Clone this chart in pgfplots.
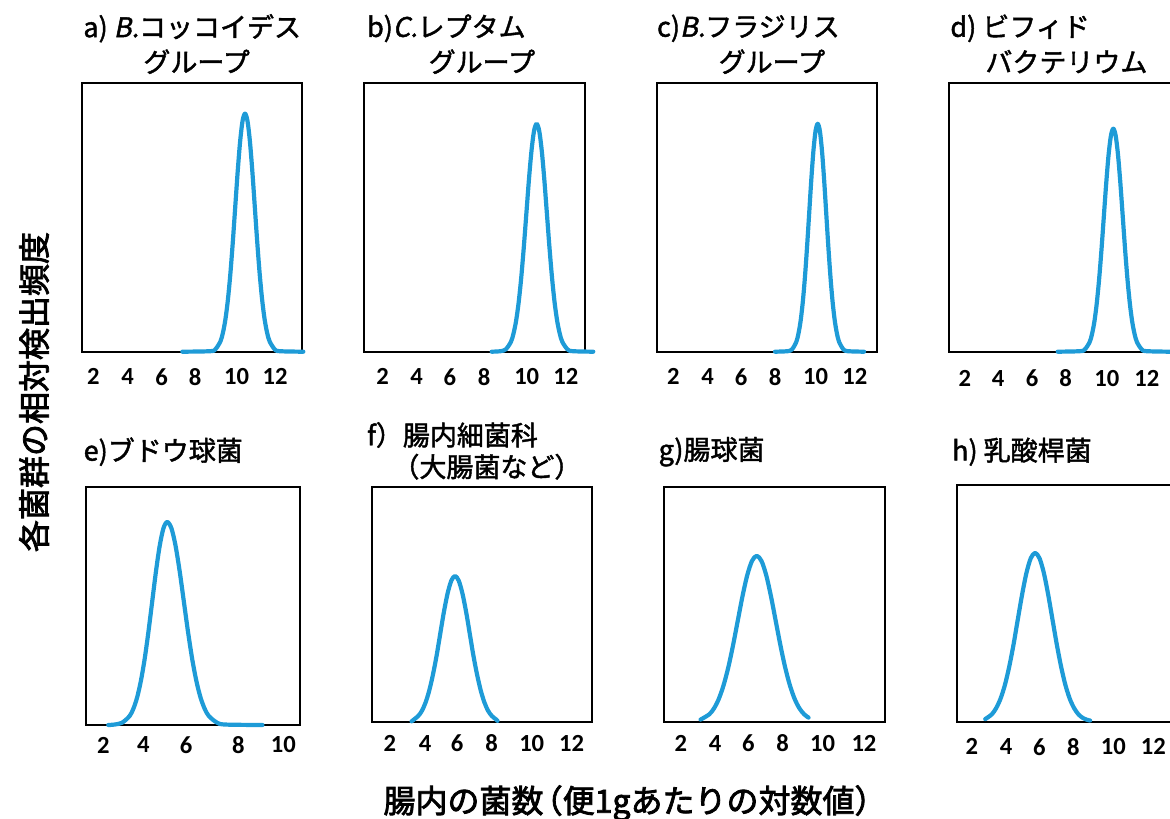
\documentclass[border=0pt]{standalone}
\usepackage{fontspec}
\setmainfont{Noto Sans CJK JP}[FakeBold=1.6]
\newfontfamily\itfont{Noto Sans CJK JP}[FakeSlant=0.2, FakeBold=1.6]
\newfontfamily\lblfont{Noto Sans CJK JP}[FakeBold=2.4]
\newfontfamily\tickfont{Carlito}
\usepackage{pgfplots}
\pgfplotsset{compat=1.18}
\definecolor{curve}{RGB}{30,155,215}
\pgfplotsset{
  panel/.style={scale only axis, ymin=0, ymax=1, ytick=\empty,
    major tick length=0pt, axis line style={line width=1pt}, clip=false,
    xticklabels={2,4,6,8,10,12},
    xticklabel style={font=\tickfont\bfseries\fontsize{12.3}{12}\selectfont, anchor=center, inner sep=0pt},
    anchor=south west},
  curv/.style={color=curve, line width=2.1pt, line cap=round, line join=round, smooth, tension=0.5, mark=none}
}
\tikzset{ttl/.style={anchor=west, inner sep=0pt, font=\fontsize{13.5}{16}\selectfont}}
\begin{document}
\begin{tikzpicture}[x=0.5pt,y=-0.5pt]
\useasboundingbox (0,0) rectangle (1170,818);
% ---------- a
\begin{axis}[panel, at={(40.85pt,-175.85pt)}, width=110pt, height=134.2pt,
  xmin=1.36, xmax=13.47, xtick={2,3.89,5.76,7.6,9.89,12}, xticklabel style={yshift=-12.5pt}]
\addplot[curv] coordinates {(6.90,0) (8.46,0.002) (8.73,0.010) (9.00,0.039) (9.135,0.071) (9.27,0.120) (9.405,0.192) (9.54,0.288) (9.675,0.406) (9.81,0.538) (9.945,0.670) (10.08,0.783) (10.215,0.860) (10.35,0.887) (10.485,0.860) (10.62,0.783) (10.755,0.670) (10.89,0.538) (11.025,0.406) (11.16,0.288) (11.295,0.192) (11.43,0.120) (11.565,0.071) (11.70,0.039) (11.97,0.010) (12.24,0.002) (13.56,0)};
\end{axis}
% ---------- b
\begin{axis}[panel, at={(182pt,-175.85pt)}, width=110.5pt, height=134.2pt,
  xmin=0.98, xmax=13.04, xtick={2,3.85,5.67,7.53,9.86,12}, xticklabel style={yshift=-12.5pt}]
\addplot[curv] coordinates {(7.95,0) (8.44,0.002) (8.72,0.009) (9.00,0.037) (9.14,0.068) (9.28,0.115) (9.42,0.184) (9.56,0.276) (9.70,0.389) (9.84,0.515) (9.98,0.641) (10.12,0.749) (10.26,0.823) (10.40,0.849) (10.54,0.823) (10.68,0.749) (10.82,0.641) (10.96,0.515) (11.10,0.389) (11.24,0.276) (11.38,0.184) (11.52,0.115) (11.66,0.068) (11.80,0.037) (12.08,0.009) (12.36,0.002) (13.49,0)};
\end{axis}
% ---------- c
\begin{axis}[panel, at={(328.35pt,-175.85pt)}, width=110.3pt, height=134.2pt,
  xmin=1.09, xmax=13.23, xtick={2,3.89,5.73,7.60,9.84,12}, xticklabel style={yshift=-12.5pt}]
\addplot[curv] coordinates {(7.60,0) (8.305,0.002) (8.54,0.009) (8.775,0.037) (8.8925,0.068) (9.01,0.115) (9.1275,0.184) (9.245,0.276) (9.3625,0.389) (9.48,0.515) (9.5975,0.641) (9.715,0.749) (9.8325,0.823) (9.95,0.849) (10.0675,0.823) (10.185,0.749) (10.3025,0.641) (10.42,0.515) (10.5375,0.389) (10.655,0.276) (10.7725,0.184) (10.89,0.115) (11.0075,0.068) (11.125,0.037) (11.36,0.009) (11.595,0.002) (12.50,0)};
\end{axis}
% ---------- d
\begin{axis}[panel, at={(474.65pt,-175.85pt)}, width=111.35pt, height=134.2pt,
  xmin=1.14, xmax=13.39, xtick={2,3.83,5.70,7.54,9.80,12}, xticklabel style={yshift=-13.3pt}]
\addplot[curv] coordinates {(7.10,0) (8.34,0.002) (8.60,0.009) (8.86,0.036) (8.99,0.066) (9.12,0.112) (9.25,0.180) (9.38,0.270) (9.51,0.380) (9.64,0.504) (9.77,0.627) (9.90,0.733) (10.03,0.805) (10.16,0.831) (10.29,0.805) (10.42,0.733) (10.55,0.627) (10.68,0.504) (10.81,0.380) (10.94,0.270) (11.07,0.180) (11.20,0.112) (11.33,0.066) (11.46,0.036) (11.72,0.009) (11.98,0.002) (13.30,0)};
\end{axis}
% ---------- e
\begin{axis}[panel, at={(43pt,-362.5pt)}, width=107pt, height=118.85pt,
  xmin=1.23, xmax=10.74, xtick={2,3.78,5.68,8,10}, xticklabels={2,4,6,8,10}, xticklabel style={yshift=-10pt}]
\addplot[curv] coordinates {(2.22,0) (2.495,0.0019) (2.83,0.0095) (3.165,0.0375) (3.3325,0.068) (3.50,0.1155) (3.6675,0.185) (3.835,0.277) (4.0025,0.391) (4.17,0.518) (4.3375,0.645) (4.505,0.754) (4.6725,0.828) (4.84,0.854) (5.025,0.828) (5.21,0.754) (5.395,0.645) (5.58,0.518) (5.765,0.391) (5.95,0.277) (6.135,0.185) (6.32,0.1155) (6.505,0.068) (6.69,0.0375) (7.06,0.0095) (7.43,0.0019) (9.07,0)};
\end{axis}
% ---------- f
\begin{axis}[panel, at={(186.15pt,-361.15pt)}, width=109.7pt, height=117.8pt,
  xmin=1.03, xmax=13.10, xtick={2,3.93,5.70,7.60,9.80,12}, xticklabel style={yshift=-10.5pt}]
\addplot[curv] coordinates {(3.19,0.004) (3.555,0.027) (3.76,0.049) (3.96,0.084) (4.16,0.134) (4.365,0.202) (4.57,0.284) (4.77,0.377) (4.97,0.469) (5.175,0.548) (5.38,0.602) (5.58,0.621) (5.78,0.602) (5.985,0.548) (6.19,0.469) (6.39,0.377) (6.59,0.284) (6.795,0.202) (7.00,0.134) (7.20,0.084) (7.40,0.049) (7.605,0.027) (7.81,0.014) (7.92,0.006)};
\end{axis}
% ---------- g
\begin{axis}[panel, at={(332.15pt,-360.85pt)}, width=110.35pt, height=117.5pt,
  xmin=1.09, xmax=13.15, xtick={2,3.86,5.68,7.56,9.74,12}, xticklabel style={yshift=-10.8pt}]
\addplot[curv] coordinates {(3.07,0.009) (3.54,0.031) (3.80,0.056) (4.06,0.0955) (4.32,0.153) (4.58,0.229) (4.84,0.323) (5.10,0.428) (5.36,0.533) (5.62,0.623) (5.88,0.684) (6.14,0.706) (6.40,0.684) (6.66,0.623) (6.92,0.533) (7.18,0.428) (7.44,0.323) (7.70,0.229) (7.96,0.153) (8.22,0.0955) (8.48,0.056) (8.74,0.031) (8.97,0.0174)};
\end{axis}
% ---------- h
\begin{axis}[panel, at={(478.35pt,-360.85pt)}, width=107.65pt, height=118.35pt,
  xmin=1.17, xmax=13.03, xtick={2,3.89,5.72,7.59,9.80,12}, xticklabel style={yshift=-12.5pt}]
\addplot[curv] coordinates {(2.74,0.011) (3.10,0.031) (3.34,0.057) (3.58,0.0965) (3.82,0.154) (4.06,0.2315) (4.30,0.326) (4.535,0.432) (4.774,0.538) (5.0125,0.629) (5.251,0.691) (5.49,0.713) (5.729,0.691) (5.968,0.629) (6.206,0.538) (6.445,0.432) (6.684,0.326) (6.923,0.2315) (7.161,0.154) (7.40,0.0965) (7.639,0.057) (7.878,0.031) (8.116,0.016) (8.355,0.008) (8.52,0.005)};
\end{axis}
% ---------- titles
\node[ttl] at (83,28.3) {a) {\itfont B.}コッコイデス};
\node[ttl] at (143,61.7) {グループ};
\node[ttl] at (366.7,28.3) {b){\itfont C.}レプタム};
\node[ttl] at (428.3,61.7) {グループ};
\node[ttl] at (656.7,28.3) {c){\itfont B.}フラジリス};
\node[ttl] at (718.3,61.7) {グループ};
\node[ttl] at (950,28.3) {d) ビフィド};
\node[ttl] at (985,61.7) {バクテリウム};
\node[ttl] at (83.3,451.7) {e)ブドウ球菌};
\node[ttl] at (366.7,435) {f）腸内細菌科};
\node[ttl] at (392,466.7) {（大腸菌など）};
\node[ttl] at (658.3,451.7) {g)腸球菌};
\node[ttl] at (951.7,451.7) {h) 乳酸桿菌};
% ---------- axis titles
\node[inner sep=0pt, rotate=90, font=\lblfont\fontsize{16}{18}\selectfont] at (34,392) {各菌群の相対検出頻度};
\node[inner sep=0pt, font=\lblfont\fontsize{16}{18}\selectfont] at (635,803) {腸内の菌数\kern-0.4em（便1gあたりの対数値）};
\end{tikzpicture}
\end{document}
